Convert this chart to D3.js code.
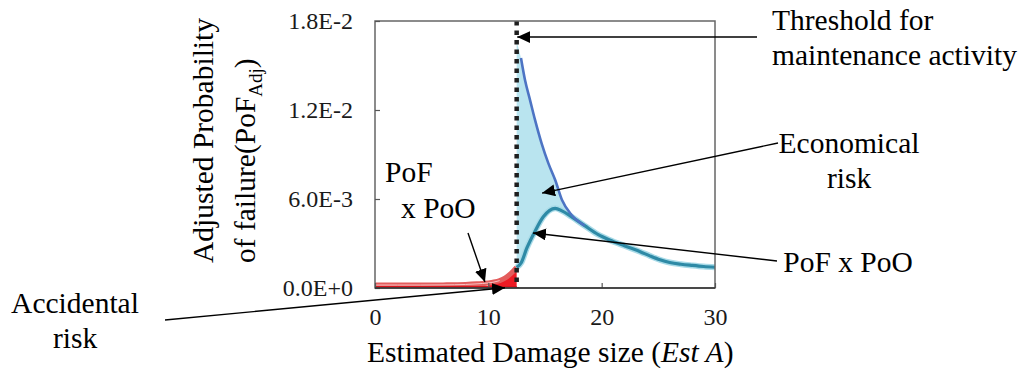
<!DOCTYPE html>
<html>
<head>
<meta charset="utf-8">
<script src="https://cdn.jsdelivr.net/npm/d3@7"></script>
<style>
  body { margin: 0; background: #fff; }
  svg { display: block; font-family: "Liberation Serif", "Times New Roman", serif; }
</style>
</head>
<body>
<div id="chart"></div>
<script>
// data
const xTicks = [0, 10, 20, 30];
const yTicks = [0, 0.006, 0.012, 0.018];
const threshold = 12.5;

// accidental risk part (PoF x PoO before threshold)
const redX = [0, 2, 4, 6, 8, 9, 10, 10.5, 11, 11.5, 12, 12.5];
const redY = [0.0002, 0.0002, 0.0002, 0.00021, 0.00024, 0.00028, 0.00034, 0.0004, 0.0005, 0.00068, 0.00098, 0.00138];

// adjusted PoF (upper curve) after threshold
const upperX = [12.5, 12.88, 13.24, 13.68, 14.12, 14.7, 15.3, 15.9, 16.5, 17.35, 18.5];
const upperY = [0.0166, 0.0155, 0.014, 0.01267, 0.01133, 0.00975, 0.0084, 0.00728, 0.00593, 0.00492, 0.0042];

// PoF x PoO after threshold (lower curve)
const lowerX = [12.5, 12.9, 13.4, 14.1, 14.85, 15.9, 16.5, 17.35, 18.5, 19.7, 20.7, 22, 23.4, 24.3, 25.15, 26, 27, 28, 29, 30];
const lowerY = [0.00138, 0.0017, 0.0027, 0.0038, 0.0048, 0.00537, 0.0052, 0.0048, 0.0042, 0.0036, 0.00324, 0.00285, 0.00245, 0.00215, 0.0019, 0.00172, 0.0016, 0.00152, 0.00145, 0.0014];

const width = 1021, height = 372;
const plot = { left: 375, right: 715, top: 21, bottom: 288 };

const svg = d3.select("#chart").append("svg")
    .attr("width", width)
    .attr("height", height);

const x = d3.scaleLinear().domain([0, 30]).range([plot.left, plot.right]);
const y = d3.scaleLinear().domain([0, 0.018]).range([plot.bottom, plot.top]);

const zip = (xs, ys) => xs.map((v, i) => ({ x: v, y: ys[i] }));
const red = zip(redX, redY);
const upper = zip(upperX, upperY);
const lower = zip(lowerX, lowerY);

const line = d3.line().x(d => x(d.x)).y(d => y(d.y)).curve(d3.curveMonotoneX);

// economical risk band between the two curves
const lowerAt = d3.scaleLinear().domain(lowerX).range(lowerY);
svg.append("path")
    .attr("d", d3.area()
        .x(d => x(d.x))
        .y0(d => y(lowerAt(d.x)))
        .y1(d => y(d.y))
        .curve(d3.curveMonotoneX)(upper))
    .attr("fill", "#b9e4ef");

// accidental risk under red curve
svg.append("path")
    .attr("d", d3.area()
        .x(d => x(d.x))
        .y0(y(0))
        .y1(d => y(d.y))
        .curve(d3.curveMonotoneX)(red.filter(d => d.x >= 10)))
    .attr("fill", "#ee1b24");

svg.append("path")
    .attr("d", line(red))
    .attr("fill", "none")
    .attr("stroke", "#e35d5d")
    .attr("stroke-width", 5);
svg.append("path")
    .attr("d", line(red.filter(d => d.x <= 11)))
    .attr("fill", "none")
    .attr("stroke", "#f6c4c4")
    .attr("stroke-width", 1);
svg.append("line")
    .attr("x1", x(0)).attr("x2", x(threshold))
    .attr("y1", y(0) - 1).attr("y2", y(0) - 1)
    .attr("stroke", "#d8141c").attr("stroke-width", 2);

// lower teal line
svg.append("path")
    .attr("d", line(lower))
    .attr("fill", "none")
    .attr("stroke", "#a9dbe8")
    .attr("stroke-width", 6);
svg.append("path")
    .attr("d", line(lower))
    .attr("fill", "none")
    .attr("stroke", "#2e8aa6")
    .attr("stroke-width", 3.2);

// upper blue line
svg.append("path")
    .attr("d", line(upper.slice(1)))
    .attr("fill", "none")
    .attr("stroke", "#4d74c4")
    .attr("stroke-width", 2.6);

// threshold dotted line
svg.append("line")
    .attr("x1", x(threshold)).attr("x2", x(threshold))
    .attr("y1", y(0.018)).attr("y2", y(0))
    .attr("stroke", "#1f1f1f")
    .attr("stroke-width", 4.5)
    .attr("stroke-dasharray", "4.5,5");

// frame
svg.append("rect")
    .attr("x", plot.left).attr("y", plot.top)
    .attr("width", plot.right - plot.left)
    .attr("height", plot.bottom - plot.top)
    .attr("fill", "none")
    .attr("stroke", "#666")
    .attr("stroke-width", 1.5);

// axes
const xAxis = svg.append("g")
    .attr("transform", `translate(0,${plot.bottom})`)
    .call(d3.axisBottom(x).tickValues(xTicks).tickSize(-5).tickPadding(20));
const yAxis = svg.append("g")
    .attr("transform", `translate(${plot.left},0)`)
    .call(d3.axisLeft(y).tickValues(yTicks).tickSize(-5).tickPadding(22)
        .tickFormat(d => d3.format(".1e")(d).toUpperCase().replace("\u2212", "-")));

[xAxis, yAxis].forEach(g => {
    g.attr("font-family", null);
    g.select(".domain").remove();
    g.selectAll(".tick line").attr("stroke", "#555").attr("stroke-width", 1.2);
    g.selectAll(".tick text")
        .attr("fill", "#1a1a1a")
        .style("font-family", "'Liberation Serif', 'Times New Roman', serif")
        .style("font-size", "24px");
});
svg.append("line")
    .attr("x1", plot.left).attr("x2", plot.right)
    .attr("y1", plot.bottom).attr("y2", plot.bottom)
    .attr("stroke", "#333").attr("stroke-width", 1.5);

// axis titles
svg.append("text")
    .attr("x", 367).attr("y", 362)
    .style("font-size", "29.5px")
    .call(t => {
        t.append("tspan").text("Estimated Damage size (");
        t.append("tspan").attr("font-style", "italic").text("Est A");
        t.append("tspan").text(")");
    });

svg.append("text")
    .attr("transform", "translate(213,263) rotate(-90)")
    .style("font-size", "29.5px")
    .text("Adjusted Probability");
svg.append("text")
    .attr("transform", "translate(255,263) rotate(-90)")
    .style("font-size", "29.5px")
    .call(t => {
        t.append("tspan").text("of failure(PoF");
        t.append("tspan").attr("dy", 7).style("font-size", "19px").text("Adj");
        t.append("tspan").attr("dy", -7).text(")");
    });

// annotations: text in page position, arrow tips in data space
const defs = svg.append("defs");
defs.append("marker")
    .attr("id", "arrow")
    .attr("viewBox", "0 -6 13 12")
    .attr("refX", 13).attr("refY", 0)
    .attr("markerWidth", 13).attr("markerHeight", 12)
    .attr("markerUnits", "userSpaceOnUse")
    .attr("orient", "auto")
    .append("path")
    .attr("d", "M0,-6L13,0L0,6Z")
    .attr("fill", "#000");

const arrows = [
    { from: [757, 37], to: [12.55, 0.01692] },
    { from: [778, 143], to: [14.74, 0.0064] },
    { from: [777, 261], to: [13.94, 0.00371] },
    { from: [468, 233], to: [9.7, 0.0004] },
    { from: [165, 320], to: [11.47, 0.00002] }
];
svg.selectAll("line.arrow")
    .data(arrows)
    .join("line")
    .attr("class", "arrow")
    .attr("x1", d => d.from[0]).attr("y1", d => d.from[1])
    .attr("x2", d => x(d.to[0])).attr("y2", d => y(d.to[1]))
    .attr("stroke", "#000")
    .attr("stroke-width", 1.4)
    .attr("marker-end", "url(#arrow)");

const labels = [
    { text: "Threshold for", x: 772, y: 30, anchor: "start" },
    { text: "maintenance activity", x: 772, y: 65, anchor: "start" },
    { text: "Economical", x: 849, y: 153, anchor: "middle" },
    { text: "risk", x: 849, y: 188, anchor: "middle" },
    { text: "PoF x PoO", x: 848, y: 272, anchor: "middle" },
    { text: "PoF", x: 385, y: 182, anchor: "start" },
    { text: "x PoO", x: 401, y: 218, anchor: "start" },
    { text: "Accidental", x: 75, y: 313, anchor: "middle" },
    { text: "risk", x: 75, y: 348, anchor: "middle" }
];
svg.selectAll("text.label")
    .data(labels)
    .join("text")
    .attr("class", "label")
    .attr("x", d => d.x).attr("y", d => d.y)
    .attr("text-anchor", d => d.anchor)
    .style("font-size", "29.5px")
    .text(d => d.text);
</script>
</body>
</html>
